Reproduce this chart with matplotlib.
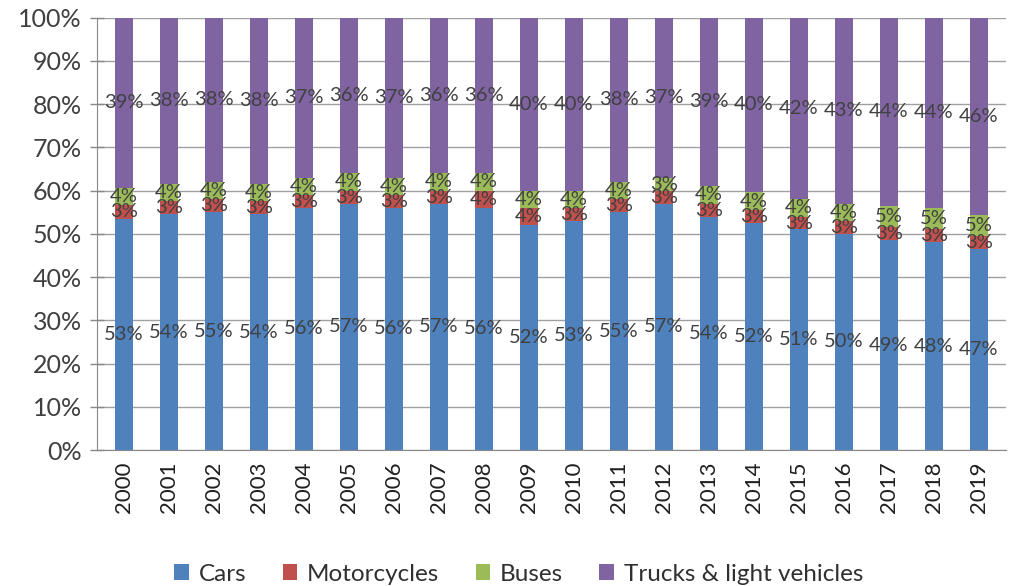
import matplotlib
matplotlib.use("Agg")
import matplotlib.pyplot as plt
import numpy as np
from matplotlib.ticker import PercentFormatter

years = [str(y) for y in range(2000, 2020)]
cars = [53, 54, 55, 54, 56, 57, 56, 57, 56, 52, 53, 55, 57, 54, 52, 51, 50, 49, 48, 47]
motorcycles = [3, 3, 3, 3, 3, 3, 3, 3, 4, 4, 3, 3, 3, 3, 3, 3, 3, 3, 3, 3]
buses = [4, 4, 4, 4, 4, 4, 4, 4, 4, 4, 4, 4, 3, 4, 4, 4, 4, 5, 5, 5]
trucks = [39, 38, 38, 38, 37, 36, 37, 36, 36, 40, 40, 38, 37, 39, 40, 42, 43, 44, 44, 46]

series = [("Cars", cars, "#4F81BD"),
          ("Motorcycles", motorcycles, "#C0504D"),
          ("Buses", buses, "#9BBB59"),
          ("Trucks & light vehicles", trucks, "#8064A2")]

plt.rcParams['font.family'] = ['Lato', 'DejaVu Sans']

fig = plt.figure(figsize=(10.21, 5.86), dpi=100)
ax = fig.add_axes([0.095, 0.232, 0.89, 0.738])

x = np.arange(len(years))
totals = np.sum([np.array(s[1]) for s in series], axis=0)
bottom = np.zeros(len(years))
for name, vals, col in series:
    v = np.array(vals, dtype=float)
    h = v / totals * 100
    ax.bar(x, h, 0.4, bottom=bottom, color=col, label=name, zorder=3)
    for xi, b, hi, raw in zip(x, bottom, h, vals):
        ax.text(xi, b + hi / 2, f"{raw}%", ha='center', va='center',
                fontsize=14.5, color='#404040', zorder=4)
    bottom += h

ax.set_ylim(0, 100)
ax.set_xlim(-0.6, len(years) - 0.4)
ax.set_yticks(np.arange(0, 101, 10))
ax.yaxis.set_major_formatter(PercentFormatter(decimals=0))
ax.set_xticks(x)
ax.set_xticklabels(years, rotation=90)
ax.tick_params(axis='y', labelsize=18, labelcolor='#404040', direction='inout',
               length=10, width=1, color='#888888', pad=6)
ax.tick_params(axis='x', labelsize=16, labelcolor='#202020', length=0, pad=8)
ax.grid(axis='y', color='#a0a0a0', linewidth=1, zorder=0)
for s in ['top', 'right']:
    ax.spines[s].set_visible(False)
ax.spines['left'].set_color('#888888')
ax.spines['bottom'].set_color('#888888')

leg = fig.legend(loc='lower center', ncol=4, frameon=False, fontsize=17.5,
                 bbox_to_anchor=(0.508, -0.035), handlelength=0.6, handleheight=0.6,
                 handletextpad=0.4, columnspacing=1.5, labelcolor='#303030')

fig.savefig("out.png", dpi=100)
